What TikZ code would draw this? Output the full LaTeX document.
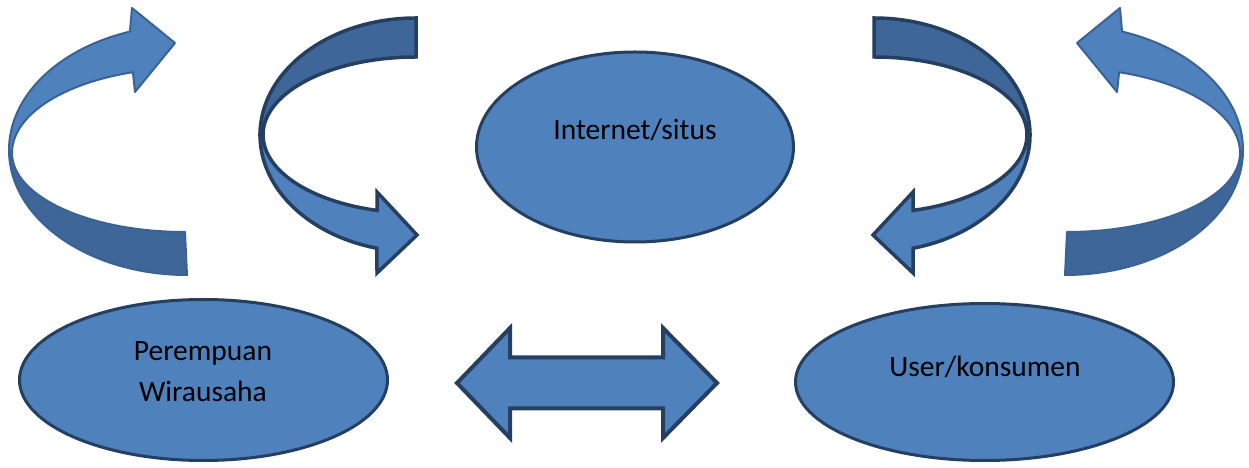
\documentclass[tikz,border=0pt]{standalone}
\usepackage{fontspec}
\setmainfont{Carlito}
\usetikzlibrary{shapes.geometric}
\definecolor{lightblue}{HTML}{4F81BD}
\definecolor{darkband}{HTML}{3E6698}
\definecolor{edgeblue}{HTML}{243F60}
\definecolor{softedge}{HTML}{3A6294}
\tikzset{
  bubble/.style={ellipse, draw=edgeblue, line width=3pt, fill=lightblue, inner sep=0pt},
  txt/.style={font=\fontsize{29.5}{41}\selectfont, text=black, align=center, anchor=base},
  frontface/.style={fill=lightblue, draw=edgeblue, line width=3.5pt, line join=miter},
  backface/.style={fill=darkband, draw=edgeblue, line width=3.5pt, line join=miter},
  softfront/.style={fill=lightblue, draw=softedge, line width=2pt, line join=round},
  softback/.style={fill=darkband, draw=softedge, line width=2pt, line join=round}
}
\begin{document}
\begin{tikzpicture}[x=1pt,y=1pt]
\useasboundingbox (0,0) rectangle (1249,468);
\fill[white] (0,0) rectangle (1249,468);

% outer curved arrows (left one, and its mirror on the right)
\path[softback] (9,318) arc[start angle=180,end angle=270,x radius=178,y radius=125]
  -- (185,236) arc[start angle=270,end angle=180,x radius=173,y radius=79] -- cycle;
\path[softfront] (9,318) arc[start angle=180,end angle=108.7,x radius=178,y radius=125]
  -- (132,460) -- (175,425) -- (135,376) -- (132.9,395.8)
  arc[start angle=108,end angle=180,x radius=175,y radius=85] -- cycle;
\begin{scope}[shift={(1252,0)},xscale=-1]
\path[softback] (9,318) arc[start angle=180,end angle=270,x radius=178,y radius=125]
  -- (185,236) arc[start angle=270,end angle=180,x radius=173,y radius=79] -- cycle;
\path[softfront] (9,318) arc[start angle=180,end angle=108.7,x radius=178,y radius=125]
  -- (132,460) -- (175,425) -- (135,376) -- (132.9,395.8)
  arc[start angle=108,end angle=180,x radius=175,y radius=85] -- cycle;
\end{scope}

% inner curved arrows
\path[backface] (416,450) arc[start angle=90,end angle=180,x radius=156,y radius=117]
  -- (263,333) arc[start angle=180,end angle=90,x radius=153,y radius=78] -- cycle;
\path[frontface] (260,333) arc[start angle=180,end angle=255.5,x radius=156,y radius=117]
  -- (377,195) -- (417,233) -- (377,276) -- (377,257.6)
  arc[start angle=255.2,end angle=180,x radius=153,y radius=78] -- cycle;
\begin{scope}[shift={(1290,0)},xscale=-1]
\path[backface] (416,450) arc[start angle=90,end angle=180,x radius=156,y radius=117]
  -- (263,333) arc[start angle=180,end angle=90,x radius=153,y radius=78] -- cycle;
\path[frontface] (260,333) arc[start angle=180,end angle=255.5,x radius=156,y radius=117]
  -- (377,195) -- (417,233) -- (377,276) -- (377,257.6)
  arc[start angle=255.2,end angle=180,x radius=153,y radius=78] -- cycle;
\end{scope}

% double arrow
\path[frontface, line width=4pt] (457,85) -- (510,140) -- (510,110.5) -- (663,110.5)
  -- (663,140) -- (717,85) -- (663,30) -- (663,59.5) -- (510,59.5) -- (510,30) -- cycle;

% ellipses
\node[bubble, minimum width=317pt, minimum height=190pt] (internet) at (635,321) {};
\node[bubble, minimum width=368pt, minimum height=161pt] (perempuan) at (203.5,88) {};
\node[bubble, minimum width=378pt, minimum height=157pt] (user) at (984.5,86) {};

\node[txt] (tinternet) at (635,328) {Internet/situs};
\node[txt] (tperempuan) at (203,66) {Perempuan\\Wirausaha};
\node[txt] (tuser) at (985,91) {User/konsumen};
\end{tikzpicture}
\end{document}
